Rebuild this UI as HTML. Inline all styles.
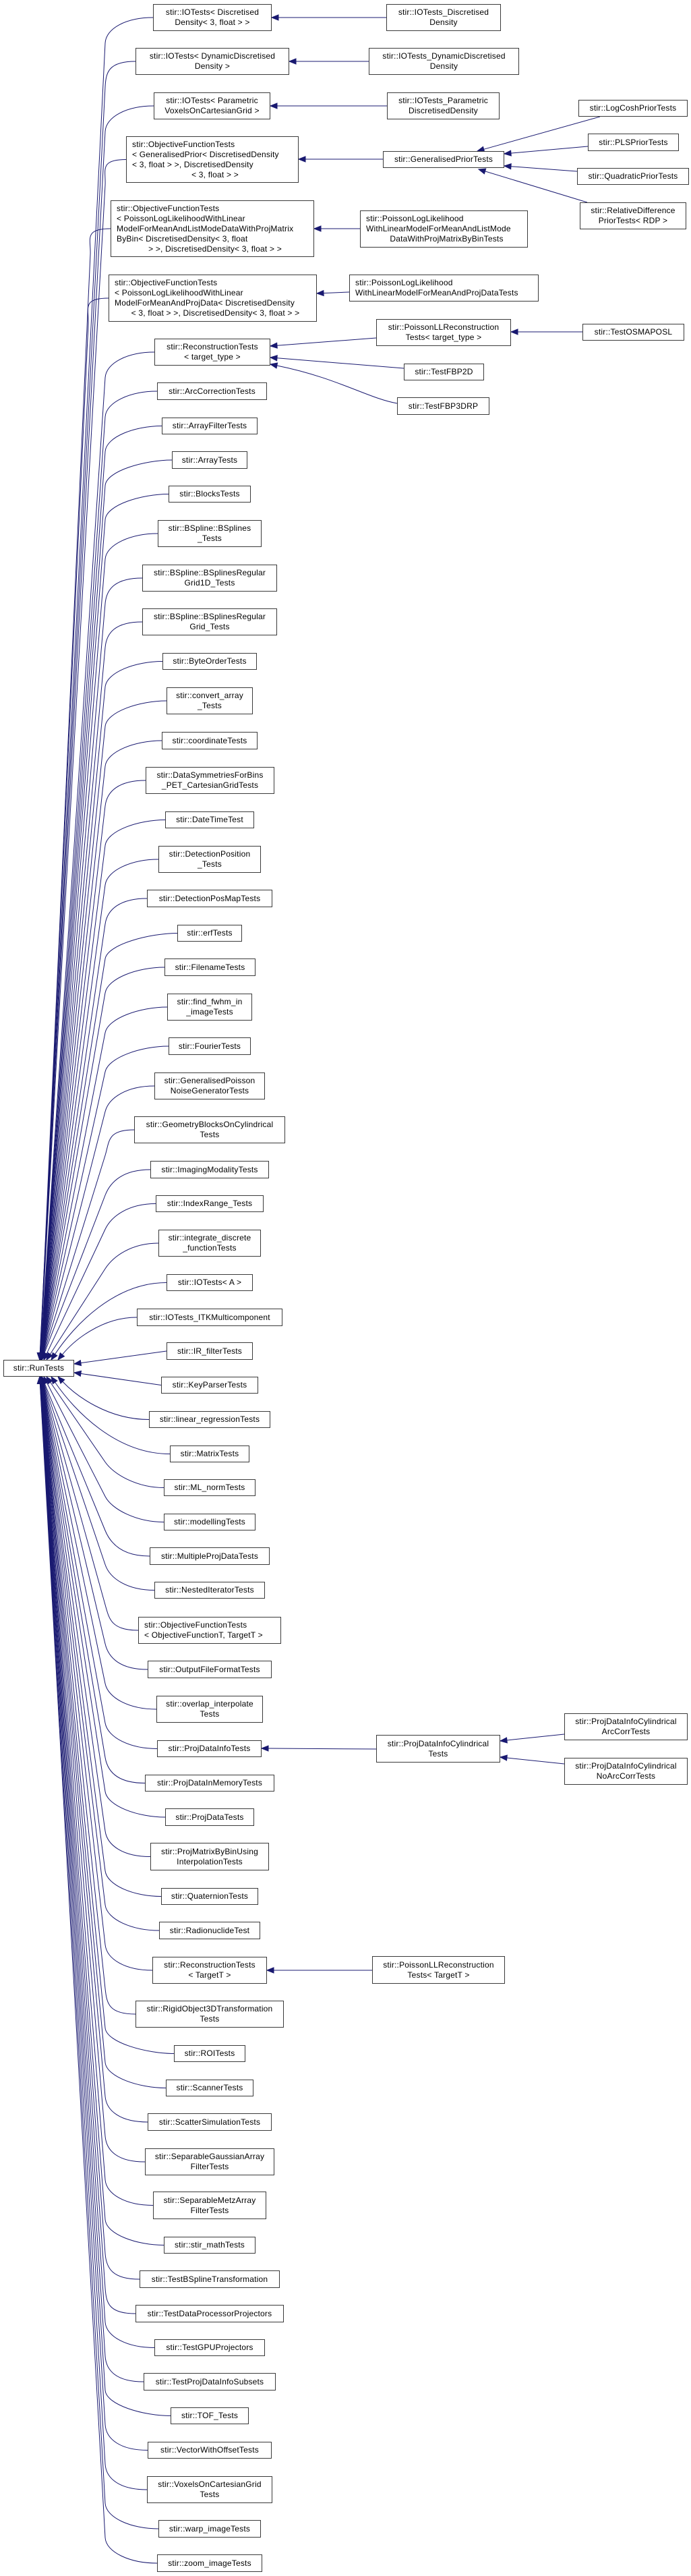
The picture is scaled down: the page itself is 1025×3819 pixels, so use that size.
<!DOCTYPE html>
<html><head><meta charset="utf-8">
<style>
html,body{margin:0;padding:0;background:#fff;}
body{width:1025px;height:3819px;position:relative;overflow:hidden;}
svg{position:absolute;left:0;top:0;}
.n{position:absolute;box-sizing:border-box;border:1px solid #3a3a3a;background:#fff;
font-family:"Liberation Sans",Arial,sans-serif;font-size:12px;line-height:15px;letter-spacing:0.2px;
display:flex;flex-direction:column;align-items:center;justify-content:center;text-align:center;white-space:nowrap;color:#000;}
.n.l{align-items:flex-start;text-align:left;padding-left:8px;}
.n.l .m{align-self:center;}
</style></head><body>
<svg id="s" width="1025" height="3819" xmlns="http://www.w3.org/2000/svg"></svg>

<div class="n" style="left:5px;top:2016px;width:105px;height:25px">stir::RunTests</div>

<div class="n c" style="left:227px;top:6px;width:176px;height:40px"><div>stir::IOTests&lt; Discretised</div><div>Density&lt; 3, float &gt; &gt;</div></div>
<div class="n c" style="left:201px;top:71px;width:228px;height:40px"><div>stir::IOTests&lt; DynamicDiscretised</div><div>Density &gt;</div></div>
<div class="n c" style="left:228px;top:137px;width:173px;height:40px"><div>stir::IOTests&lt; Parametric</div><div>VoxelsOnCartesianGrid &gt;</div></div>
<div class="n c l" style="left:187px;top:202px;width:256px;height:69px"><div>stir::ObjectiveFunctionTests</div><div>&lt; GeneralisedPrior&lt; DiscretisedDensity</div><div>&lt; 3, float &gt; &gt;, DiscretisedDensity</div><div class="m">&lt; 3, float &gt; &gt;</div></div>
<div class="n c l" style="left:164px;top:297px;width:302px;height:84px"><div>stir::ObjectiveFunctionTests</div><div>&lt; PoissonLogLikelihoodWithLinear</div><div>ModelForMeanAndListModeDataWithProjMatrix</div><div>ByBin&lt; DiscretisedDensity&lt; 3, float</div><div class="m">&gt; &gt;, DiscretisedDensity&lt; 3, float &gt; &gt;</div></div>
<div class="n c l" style="left:161px;top:407px;width:309px;height:70px"><div>stir::ObjectiveFunctionTests</div><div>&lt; PoissonLogLikelihoodWithLinear</div><div>ModelForMeanAndProjData&lt; DiscretisedDensity</div><div class="m">&lt; 3, float &gt; &gt;, DiscretisedDensity&lt; 3, float &gt; &gt;</div></div>
<div class="n c" style="left:229px;top:502px;width:172px;height:40px"><div>stir::ReconstructionTests</div><div>&lt; target_type &gt;</div></div>
<div class="n c" style="left:233px;top:567px;width:163px;height:26px">stir::ArcCorrectionTests</div>
<div class="n c" style="left:240px;top:619px;width:142px;height:25px">stir::ArrayFilterTests</div>
<div class="n c" style="left:255px;top:669px;width:112px;height:26px">stir::ArrayTests</div>
<div class="n c" style="left:250px;top:720px;width:122px;height:25px">stir::BlocksTests</div>
<div class="n c" style="left:234px;top:771px;width:154px;height:40px"><div>stir::BSpline::BSplines</div><div>_Tests</div></div>
<div class="n c" style="left:211px;top:837px;width:200px;height:40px"><div>stir::BSpline::BSplinesRegular</div><div>Grid1D_Tests</div></div>
<div class="n c" style="left:211px;top:902px;width:200px;height:40px"><div>stir::BSpline::BSplinesRegular</div><div>Grid_Tests</div></div>
<div class="n c" style="left:241px;top:968px;width:140px;height:25px">stir::ByteOrderTests</div>
<div class="n c" style="left:247px;top:1019px;width:128px;height:40px"><div>stir::convert_array</div><div>_Tests</div></div>
<div class="n c" style="left:240px;top:1085px;width:142px;height:26px">stir::coordinateTests</div>
<div class="n c" style="left:216px;top:1137px;width:191px;height:40px"><div>stir::DataSymmetriesForBins</div><div>_PET_CartesianGridTests</div></div>
<div class="n c" style="left:245px;top:1203px;width:132px;height:25px">stir::DateTimeTest</div>
<div class="n c" style="left:235px;top:1254px;width:152px;height:40px"><div>stir::DetectionPosition</div><div>_Tests</div></div>
<div class="n c" style="left:218px;top:1319px;width:186px;height:26px">stir::DetectionPosMapTests</div>
<div class="n c" style="left:263px;top:1371px;width:96px;height:25px">stir::erfTests</div>
<div class="n c" style="left:244px;top:1421px;width:135px;height:26px">stir::FilenameTests</div>
<div class="n c" style="left:248px;top:1473px;width:126px;height:40px"><div>stir::find_fwhm_in</div><div>_imageTests</div></div>
<div class="n c" style="left:250px;top:1538px;width:122px;height:26px">stir::FourierTests</div>
<div class="n c" style="left:229px;top:1590px;width:164px;height:40px"><div>stir::GeneralisedPoisson</div><div>NoiseGeneratorTests</div></div>
<div class="n c" style="left:199px;top:1655px;width:224px;height:40px"><div>stir::GeometryBlocksOnCylindrical</div><div>Tests</div></div>
<div class="n c" style="left:223px;top:1721px;width:176px;height:26px">stir::ImagingModalityTests</div>
<div class="n c" style="left:231px;top:1772px;width:160px;height:25px">stir::IndexRange_Tests</div>
<div class="n c" style="left:235px;top:1823px;width:152px;height:40px"><div>stir::integrate_discrete</div><div>_functionTests</div></div>
<div class="n c" style="left:247px;top:1889px;width:128px;height:25px">stir::IOTests&lt; A &gt;</div>
<div class="n c" style="left:203px;top:1940px;width:216px;height:26px">stir::IOTests_ITKMulticomponent</div>
<div class="n c" style="left:247px;top:1990px;width:128px;height:26px">stir::IR_filterTests</div>
<div class="n c" style="left:239px;top:2041px;width:144px;height:25px">stir::KeyParserTests</div>
<div class="n c" style="left:221px;top:2092px;width:180px;height:25px">stir::linear_regressionTests</div>
<div class="n c" style="left:252px;top:2143px;width:118px;height:25px">stir::MatrixTests</div>
<div class="n c" style="left:243px;top:2193px;width:136px;height:25px">stir::ML_normTests</div>
<div class="n c" style="left:243px;top:2244px;width:136px;height:25px">stir::modellingTests</div>
<div class="n c" style="left:222px;top:2294px;width:178px;height:26px">stir::MultipleProjDataTests</div>
<div class="n c" style="left:229px;top:2345px;width:164px;height:25px">stir::NestedIteratorTests</div>
<div class="n c l" style="left:205px;top:2397px;width:212px;height:40px"><div>stir::ObjectiveFunctionTests</div><div>&lt; ObjectiveFunctionT, TargetT &gt;</div></div>
<div class="n c" style="left:219px;top:2462px;width:184px;height:26px">stir::OutputFileFormatTests</div>
<div class="n c" style="left:232px;top:2514px;width:158px;height:40px"><div>stir::overlap_interpolate</div><div>Tests</div></div>
<div class="n c" style="left:233px;top:2580px;width:155px;height:25px">stir::ProjDataInfoTests</div>
<div class="n c" style="left:215px;top:2631px;width:192px;height:25px">stir::ProjDataInMemoryTests</div>
<div class="n c" style="left:245px;top:2681px;width:132px;height:26px">stir::ProjDataTests</div>
<div class="n c" style="left:223px;top:2732px;width:176px;height:41px"><div>stir::ProjMatrixByBinUsing</div><div>InterpolationTests</div></div>
<div class="n c" style="left:239px;top:2799px;width:144px;height:25px">stir::QuaternionTests</div>
<div class="n c" style="left:236px;top:2849px;width:150px;height:26px">stir::RadionuclideTest</div>
<div class="n c" style="left:226px;top:2901px;width:170px;height:40px"><div>stir::ReconstructionTests</div><div>&lt; TargetT &gt;</div></div>
<div class="n c" style="left:201px;top:2966px;width:220px;height:40px"><div>stir::RigidObject3DTransformation</div><div>Tests</div></div>
<div class="n c" style="left:258px;top:3032px;width:106px;height:25px">stir::ROITests</div>
<div class="n c" style="left:246px;top:3083px;width:130px;height:25px">stir::ScannerTests</div>
<div class="n c" style="left:219px;top:3133px;width:184px;height:26px">stir::ScatterSimulationTests</div>
<div class="n c" style="left:215px;top:3185px;width:192px;height:40px"><div>stir::SeparableGaussianArray</div><div>FilterTests</div></div>
<div class="n c" style="left:227px;top:3249px;width:168px;height:41px"><div>stir::SeparableMetzArray</div><div>FilterTests</div></div>
<div class="n c" style="left:243px;top:3316px;width:136px;height:25px">stir::stir_mathTests</div>
<div class="n c" style="left:207px;top:3366px;width:208px;height:26px">stir::TestBSplineTransformation</div>
<div class="n c" style="left:201px;top:3417px;width:220px;height:26px">stir::TestDataProcessorProjectors</div>
<div class="n c" style="left:229px;top:3468px;width:164px;height:25px">stir::TestGPUProjectors</div>
<div class="n c" style="left:213px;top:3518px;width:196px;height:26px">stir::TestProjDataInfoSubsets</div>
<div class="n c" style="left:253px;top:3569px;width:116px;height:25px">stir::TOF_Tests</div>
<div class="n c" style="left:219px;top:3620px;width:184px;height:25px">stir::VectorWithOffsetTests</div>
<div class="n c" style="left:218px;top:3671px;width:186px;height:40px"><div>stir::VoxelsOnCartesianGrid</div><div>Tests</div></div>
<div class="n c" style="left:235px;top:3736px;width:152px;height:26px">stir::warp_imageTests</div>
<div class="n c" style="left:233px;top:3787px;width:156px;height:26px">stir::zoom_imageTests</div>

<div class="n" style="left:573px;top:6px;width:170px;height:40px"><div>stir::IOTests_Discretised</div><div>Density</div></div>
<div class="n" style="left:547px;top:71px;width:223px;height:40px"><div>stir::IOTests_DynamicDiscretised</div><div>Density</div></div>
<div class="n" style="left:574px;top:137px;width:167px;height:40px"><div>stir::IOTests_Parametric</div><div>DiscretisedDensity</div></div>
<div class="n" style="left:568px;top:224px;width:180px;height:25px">stir::GeneralisedPriorTests</div>
<div class="n" style="left:858px;top:148px;width:162px;height:25px">stir::LogCoshPriorTests</div>
<div class="n" style="left:872px;top:198px;width:135px;height:26px">stir::PLSPriorTests</div>
<div class="n" style="left:856px;top:249px;width:166px;height:25px">stir::QuadraticPriorTests</div>
<div class="n" style="left:860px;top:300px;width:158px;height:40px"><div>stir::RelativeDifference</div><div>PriorTests&lt; RDP &gt;</div></div>
<div class="n l" style="left:534px;top:312px;width:249px;height:55px"><div>stir::PoissonLogLikelihood</div><div>WithLinearModelForMeanAndListMode</div><div class="m">DataWithProjMatrixByBinTests</div></div>
<div class="n l" style="left:518px;top:407px;width:281px;height:40px"><div>stir::PoissonLogLikelihood</div><div>WithLinearModelForMeanAndProjDataTests</div></div>
<div class="n" style="left:558px;top:473px;width:200px;height:40px"><div>stir::PoissonLLReconstruction</div><div>Tests&lt; target_type &gt;</div></div>
<div class="n" style="left:864px;top:480px;width:151px;height:25px">stir::TestOSMAPOSL</div>
<div class="n" style="left:599px;top:539px;width:119px;height:25px">stir::TestFBP2D</div>
<div class="n" style="left:589px;top:589px;width:137px;height:26px">stir::TestFBP3DRP</div>
<div class="n" style="left:558px;top:2572px;width:184px;height:41px"><div>stir::ProjDataInfoCylindrical</div><div>Tests</div></div>
<div class="n" style="left:837px;top:2540px;width:183px;height:40px"><div>stir::ProjDataInfoCylindrical</div><div>ArcCorrTests</div></div>
<div class="n" style="left:837px;top:2606px;width:183px;height:40px"><div>stir::ProjDataInfoCylindrical</div><div>NoArcCorrTests</div></div>
<div class="n" style="left:552px;top:2900px;width:197px;height:41px"><div>stir::PoissonLLReconstruction</div><div>Tests&lt; TargetT &gt;</div></div>

<script>
(function(){
var S=document.getElementById('s'),NS='http://www.w3.org/2000/svg',C='#191970';
function el(t,a){var e=document.createElementNS(NS,t);for(var k in a)e.setAttribute(k,a[k]);S.appendChild(e);return e;}
function head(tx,ty,fx,fy){var dx=tx-fx,dy=ty-fy,L=Math.sqrt(dx*dx+dy*dy)||1,ux=dx/L,uy=dy/L;
 var bx=tx-ux*10,by=ty-uy*10,px=-uy*4,py=ux*4;
 el('polygon',{points:tx+','+ty+' '+(bx+px)+','+(by+py)+' '+(bx-px)+','+(by-py),fill:C,stroke:C,'stroke-width':1});
 return [bx,by];}
function path(d){el('path',{d:d,fill:'none',stroke:C,'stroke-width':1});}
function e(x1,y1,x2,y2){var b=head(x2,y2,x1,y1);path('M'+x1+','+y1+' L'+b[0]+','+b[1]);}
function cv(x1,y1,c1x,c1y,c2x,c2y,x2,y2){var b=head(x2,y2,c2x,c2y);path('M'+x1+','+y1+' C'+c1x+','+c1y+' '+c2x+','+c2y+' '+b[0]+','+b[1]);}
e(573,26,403,26);e(547,91,429,91);e(574,157,401,157);e(568,236,443,236);
e(890,173,708,224);e(872,217,748,228);e(856,254,748,246);e(871,300,710,251);
e(534,339,466,339);e(518,433,470,435);e(558,501,401,513);e(864,492,758,492);
e(599,546,401,530);cv(589,598,545,590,500,560,401,540);
e(558,2593,388,2592);e(837,2571,742,2581);e(837,2615,742,2605);e(552,2921,396,2921);
var ns=document.querySelectorAll('.c'),top=[],bot=[];
for(var i=0;i<ns.length;i++){var n=ns[i],lx=n.offsetLeft,cy=n.offsetTop+n.offsetHeight/2;
 if(Math.abs(cy-2003)<3){e(lx,cy,110,2022);continue;}
 if(Math.abs(cy-2053.5)<3){e(lx,cy,110,2035);continue;}
 if(cy<2016)top.push([lx,cy]);else bot.push([lx,cy]);}
top.sort(function(a,b){return b[1]-a[1];});bot.sort(function(a,b){return a[1]-b[1];});
var near=[86,76,69,65];
function draw(list,ty,dir){for(var r=0;r<list.length;r++){var lx=list[r][0],cy=list[r][1];
 var tx=r<4?near[r]:62-(r-4)*0.12;var d=Math.abs(ty-cy);
 if(d<150){cv(lx,cy,lx-(lx-tx)*0.45,cy,tx+(lx-tx)*0.2,ty-dir*d*0.45,tx,ty);}
 else{var kx=Math.min(156,lx-30),ky=cy+dir*38;var dx=tx-kx,dy=ty-ky,L=Math.sqrt(dx*dx+dy*dy),ux=dx/L,uy=dy/L;
  var b=head(tx,ty,kx,ky);
  path('M'+lx+','+cy+' C'+(lx-40)+','+cy+' '+(kx-ux*22)+','+(ky-uy*22)+' '+kx+','+ky+' L'+b[0]+','+b[1]);}}}
draw(top,2016,1);draw(bot,2041,-1);
})();
</script>
</body></html>
